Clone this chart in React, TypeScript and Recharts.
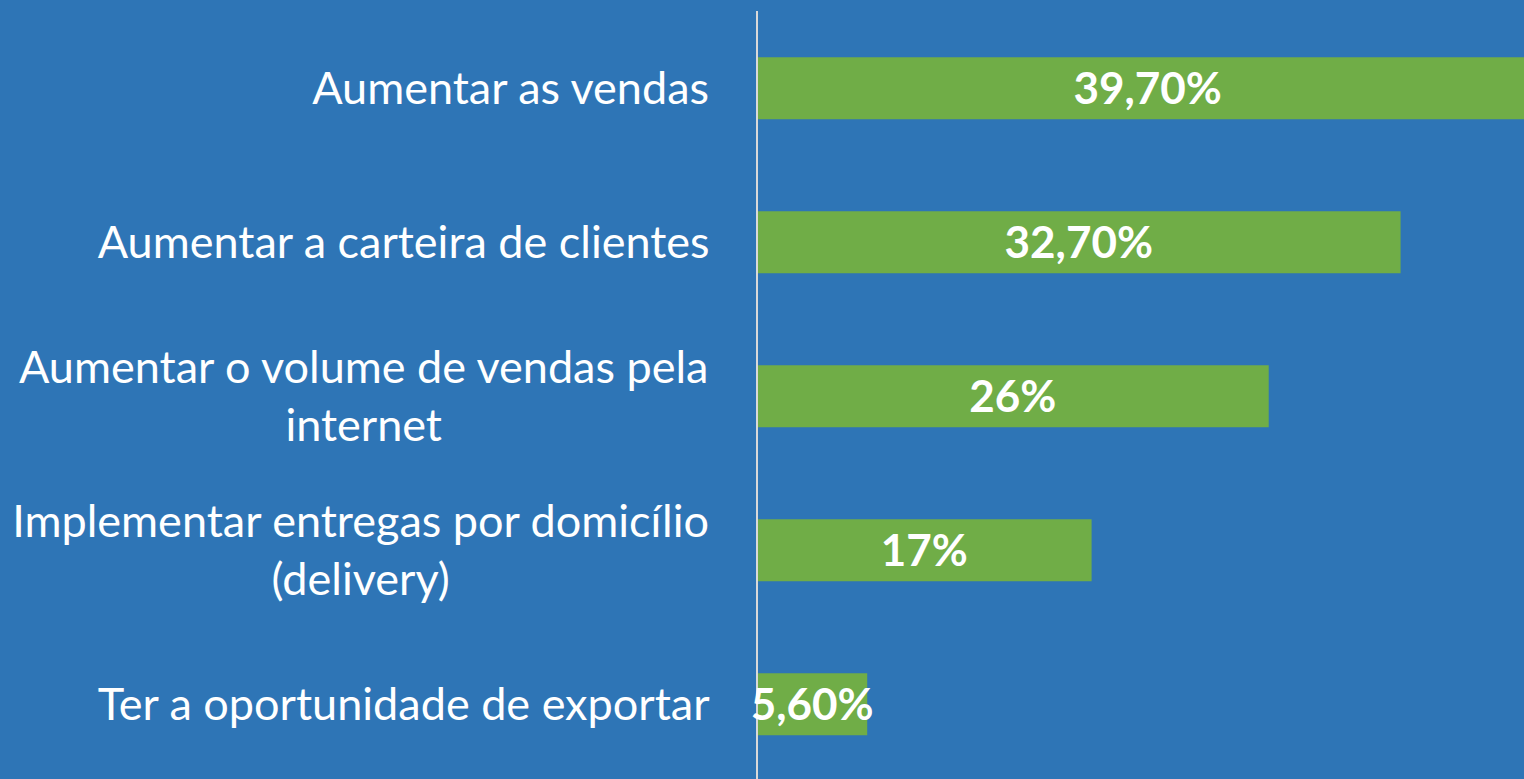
import React from 'react';
import { BarChart, Bar, XAxis, YAxis, LabelList } from 'recharts';

const categories = [
  'Aumentar as vendas',
  'Aumentar a carteira de clientes',
  'Aumentar o volume de vendas pela\ninternet',
  'Implementar entregas por domicílio\n(delivery)',
  'Ter a oportunidade de exportar',
];
const values = [39.7, 32.7, 26, 17, 5.6];
const valueLabels = ['39,70%', '32,70%', '26%', '17%', '5,60%'];

const data = categories.map((name, i) => ({ name, value: values[i], label: valueLabels[i] }));

const FONT = 'Lato';
const TICK_SIZE = 45;
const LINE_H = 58;

let ctx: CanvasRenderingContext2D | null = null;
const measure = (text: string) => {
  if (!ctx) ctx = document.createElement('canvas').getContext('2d');
  if (!ctx) return text.length * TICK_SIZE * 0.5;
  ctx.font = `${TICK_SIZE}px ${FONT}`;
  return ctx.measureText(text).width;
};

const CategoryTick = (props: any) => {
  const { y, payload } = props;
  const lines: string[] = String(payload.value).split('\n');
  const right = 710;
  const maxW = Math.max(...lines.map(measure));
  const cx = right - maxW / 2;
  const top = y - ((lines.length - 1) * LINE_H) / 2;
  return (
    <text x={cx} y={top} textAnchor="middle" fill="#ffffff" fontSize={TICK_SIZE} fontFamily={FONT}>
      {lines.map((l, i) => (
        <tspan key={i} x={cx} y={top + i * LINE_H} dy="0.36em">
          {l}
        </tspan>
      ))}
    </text>
  );
};

export default function App() {
  return (
    <div
      style={{
        position: 'fixed',
        left: 0,
        top: 0,
        width: 1524,
        height: 779,
        overflow: 'hidden',
        background: '#2E75B6',
      }}
    >
      <BarChart
        width={1524}
        height={790}
        data={data}
        layout="vertical"
        margin={{ top: 11, right: 0, bottom: 9, left: 0 }}
        barCategoryGap="30%"
      >
        <XAxis type="number" domain={[0, 38.97]} allowDataOverflow hide />
        <YAxis
          type="category"
          dataKey="name"
          width={757}
          axisLine={{ stroke: '#D9D9D9', strokeWidth: 2 }}
          tickLine={false}
          tick={<CategoryTick />}
          interval={0}
        />
        <Bar dataKey="value" fill="#70AD47" isAnimationActive={false}>
          <LabelList
            dataKey="label"
            position="center"
            fill="#ffffff"
            fontSize={44}
            fontWeight="bold"
            fontFamily={FONT}
          />
        </Bar>
      </BarChart>
    </div>
  );
}
